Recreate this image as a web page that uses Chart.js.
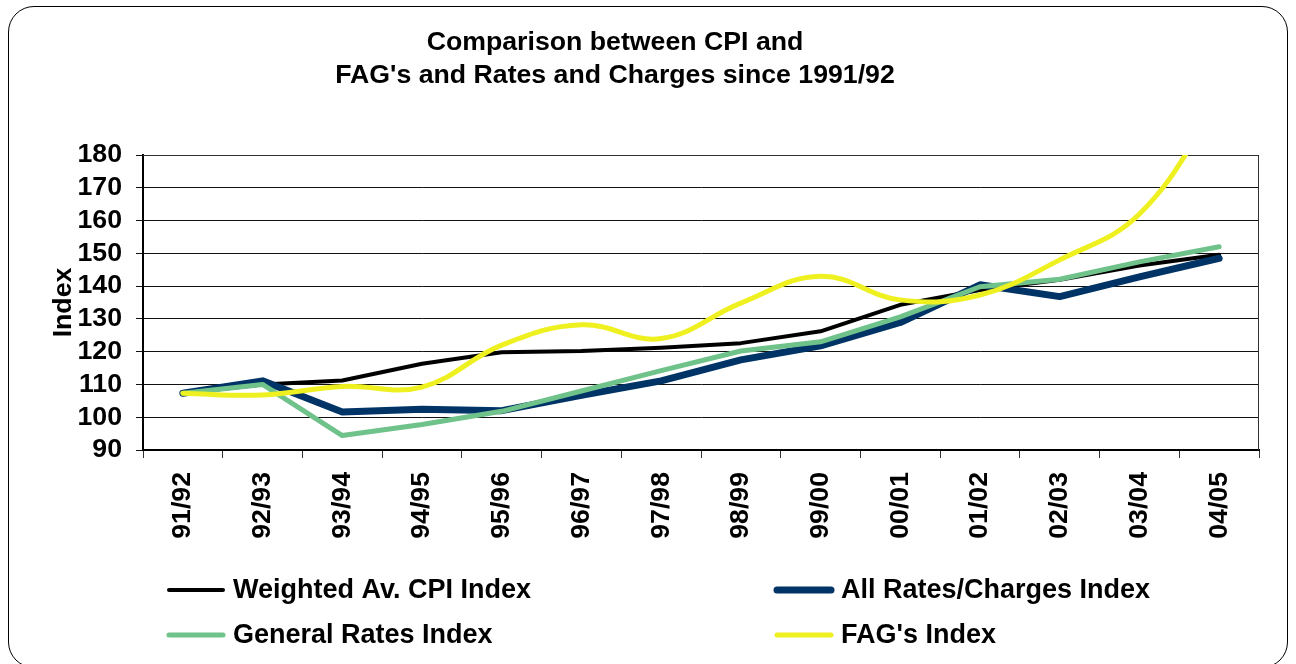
<!DOCTYPE html>
<html lang="en">
<head>
    <meta charset="UTF-8">
    <title>Comparison between CPI and FAG's and Rates and Charges since 1991/92</title>
    <script src="https://cdn.jsdelivr.net/npm/chart.js"></script>
    <style>
        body {
            margin: 0;
            padding: 0;
            background: #fff;
        }
        #wrap {
            position: relative;
            width: 1296px;
            height: 664px;
        }
        #frame {
            position: absolute;
            left: 8px;
            top: 6px;
            width: 1278px;
            height: 660px;
            border: 1.5px solid #000;
            border-radius: 26px;
            pointer-events: none;
        }
    </style>
</head>
<body>
    <div id="wrap">
        <canvas id="indexChart" width="1296" height="664"></canvas>
        <div id="frame"></div>
    </div>

    <script>
        // Values
        const categories = ['91/92', '92/93', '93/94', '94/95', '95/96', '96/97', '97/98',
                            '98/99', '99/00', '00/01', '01/02', '02/03', '03/04', '04/05'];
        const cpiIndex = [107.3, 110, 111.2, 116.3, 119.8, 120.2, 121.2, 122.6, 126.2, 134.3, 138.8, 141.9, 146.3, 149.6];
        const allRatesIndex = [107.3, 111.1, 101.6, 102.4, 102, 106.7, 111.1, 117.5, 121.8, 128.9, 140.4, 136.8, 142.8, 148.5];
        const generalRatesIndex = [107.3, 110, 94.4, 97.8, 101.8, 108, 114.2, 120.2, 123, 130.6, 139.8, 142.1, 147.4, 152];
        const fagsIndex = [107.3, 106.8, 109.4, 109.2, 122, 128.2, 124, 134.8, 143, 135.8, 137.3, 148, 162, 196];
        const yTicks = [90, 100, 110, 120, 130, 140, 150, 160, 170, 180];

        const titleLines = ['Comparison between CPI and', "FAG's and Rates and Charges since 1991/92"];
        const FONT = 'Arial, "Liberation Sans", sans-serif';

        // Title drawn by hand so it can sit where the original had it
        const titlePlugin = {
            id: 'titlePlugin',
            afterDraw(chart) {
                const ctx = chart.ctx;
                ctx.save();
                ctx.fillStyle = '#000';
                ctx.font = 'bold 26.7px ' + FONT;
                ctx.textAlign = 'center';
                ctx.textBaseline = 'middle';
                titleLines.forEach((line, i) => ctx.fillText(line, 615, 43 + i * 33));
                ctx.restore();
            }
        };

        // Plot area outline (top and right edges)
        const framePlugin = {
            id: 'framePlugin',
            beforeDatasetsDraw(chart) {
                const {ctx, chartArea} = chart;
                ctx.save();
                ctx.strokeStyle = '#333';
                ctx.lineWidth = 1;
                ctx.beginPath();
                ctx.moveTo(chartArea.left, chartArea.top + 0.5);
                ctx.lineTo(chartArea.right - 0.5, chartArea.top + 0.5);
                ctx.lineTo(chartArea.right - 0.5, chartArea.bottom);
                ctx.stroke();
                ctx.restore();
            }
        };

        // Two column legend below the axis
        const legendPlugin = {
            id: 'legendPlugin',
            afterDraw(chart) {
                const ctx = chart.ctx;
                const spots = [[167, 590], [775, 590], [167, 635], [775, 635]];
                ctx.save();
                ctx.font = 'bold 27px ' + FONT;
                ctx.textBaseline = 'middle';
                ctx.lineCap = 'round';
                chart.data.datasets.forEach((ds, i) => {
                    const [x, y] = spots[i];
                    ctx.strokeStyle = ds.borderColor;
                    ctx.lineWidth = ds.borderWidth;
                    ctx.beginPath();
                    ctx.moveTo(x + 2, y);
                    ctx.lineTo(x + 56, y);
                    ctx.stroke();
                    ctx.fillStyle = '#000';
                    ctx.fillText(ds.label, x + 66, y + 1);
                });
                ctx.restore();
            }
        };

        const ctx = document.getElementById('indexChart').getContext('2d');
        const indexChart = new Chart(ctx, {
            type: 'line',
            data: {
                labels: categories,
                datasets: [
                    {
                        label: 'Weighted Av. CPI Index',
                        data: cpiIndex,
                        borderColor: '#000000',
                        borderWidth: 4,
                        order: 3
                    },
                    {
                        label: 'All Rates/Charges Index',
                        data: allRatesIndex,
                        borderColor: '#003366',
                        borderWidth: 7,
                        order: 2
                    },
                    {
                        label: 'General Rates Index',
                        data: generalRatesIndex,
                        borderColor: '#6EC28A',
                        borderWidth: 5,
                        order: 1
                    },
                    {
                        label: "FAG's Index",
                        data: fagsIndex,
                        borderColor: '#EEF020',
                        borderWidth: 5,
                        tension: 0.4,
                        clip: {left: 5, right: 5, top: 0, bottom: 5},
                        order: 0
                    }
                ]
            },
            options: {
                responsive: false,
                animation: false,
                devicePixelRatio: 1,
                layout: {
                    padding: {left: 44, top: 155, right: 37, bottom: 114}
                },
                elements: {
                    point: {radius: 0, hoverRadius: 0},
                    line: {tension: 0, borderJoinStyle: 'round', borderCapStyle: 'round', fill: false}
                },
                plugins: {
                    legend: {display: false},
                    title: {display: false},
                    tooltip: {enabled: false}
                },
                scales: {
                    x: {
                        offset: true,
                        grid: {
                            offset: true,
                            drawOnChartArea: false,
                            drawTicks: true,
                            tickLength: 8,
                            color: '#333'
                        },
                        border: {color: '#000', width: 2},
                        ticks: {
                            autoSkip: false,
                            maxRotation: 90,
                            minRotation: 90,
                            padding: 14,
                            color: '#000',
                            font: {family: FONT, size: 26.7, weight: 'bold'}
                        },
                        afterFit(scale) {
                            scale.height = 100;
                        }
                    },
                    y: {
                        min: yTicks[0],
                        max: yTicks[yTicks.length - 1],
                        afterBuildTicks(scale) {
                            scale.ticks = yTicks.map(v => ({value: v}));
                        },
                        grid: {
                            color: '#111',
                            lineWidth: 1,
                            tickLength: 7
                        },
                        border: {color: '#000', width: 2},
                        ticks: {
                            autoSkip: false,
                            padding: 14,
                            color: '#000',
                            font: {family: FONT, size: 26.7, weight: 'bold'}
                        },
                        title: {
                            display: true,
                            text: 'Index',
                            color: '#000',
                            padding: {top: 4, bottom: 4},
                            font: {family: FONT, size: 26.7, weight: 'bold'}
                        },
                        afterFit(scale) {
                            scale.width = 99;
                        }
                    }
                }
            },
            plugins: [titlePlugin, framePlugin, legendPlugin]
        });
    </script>
</body>
</html>
